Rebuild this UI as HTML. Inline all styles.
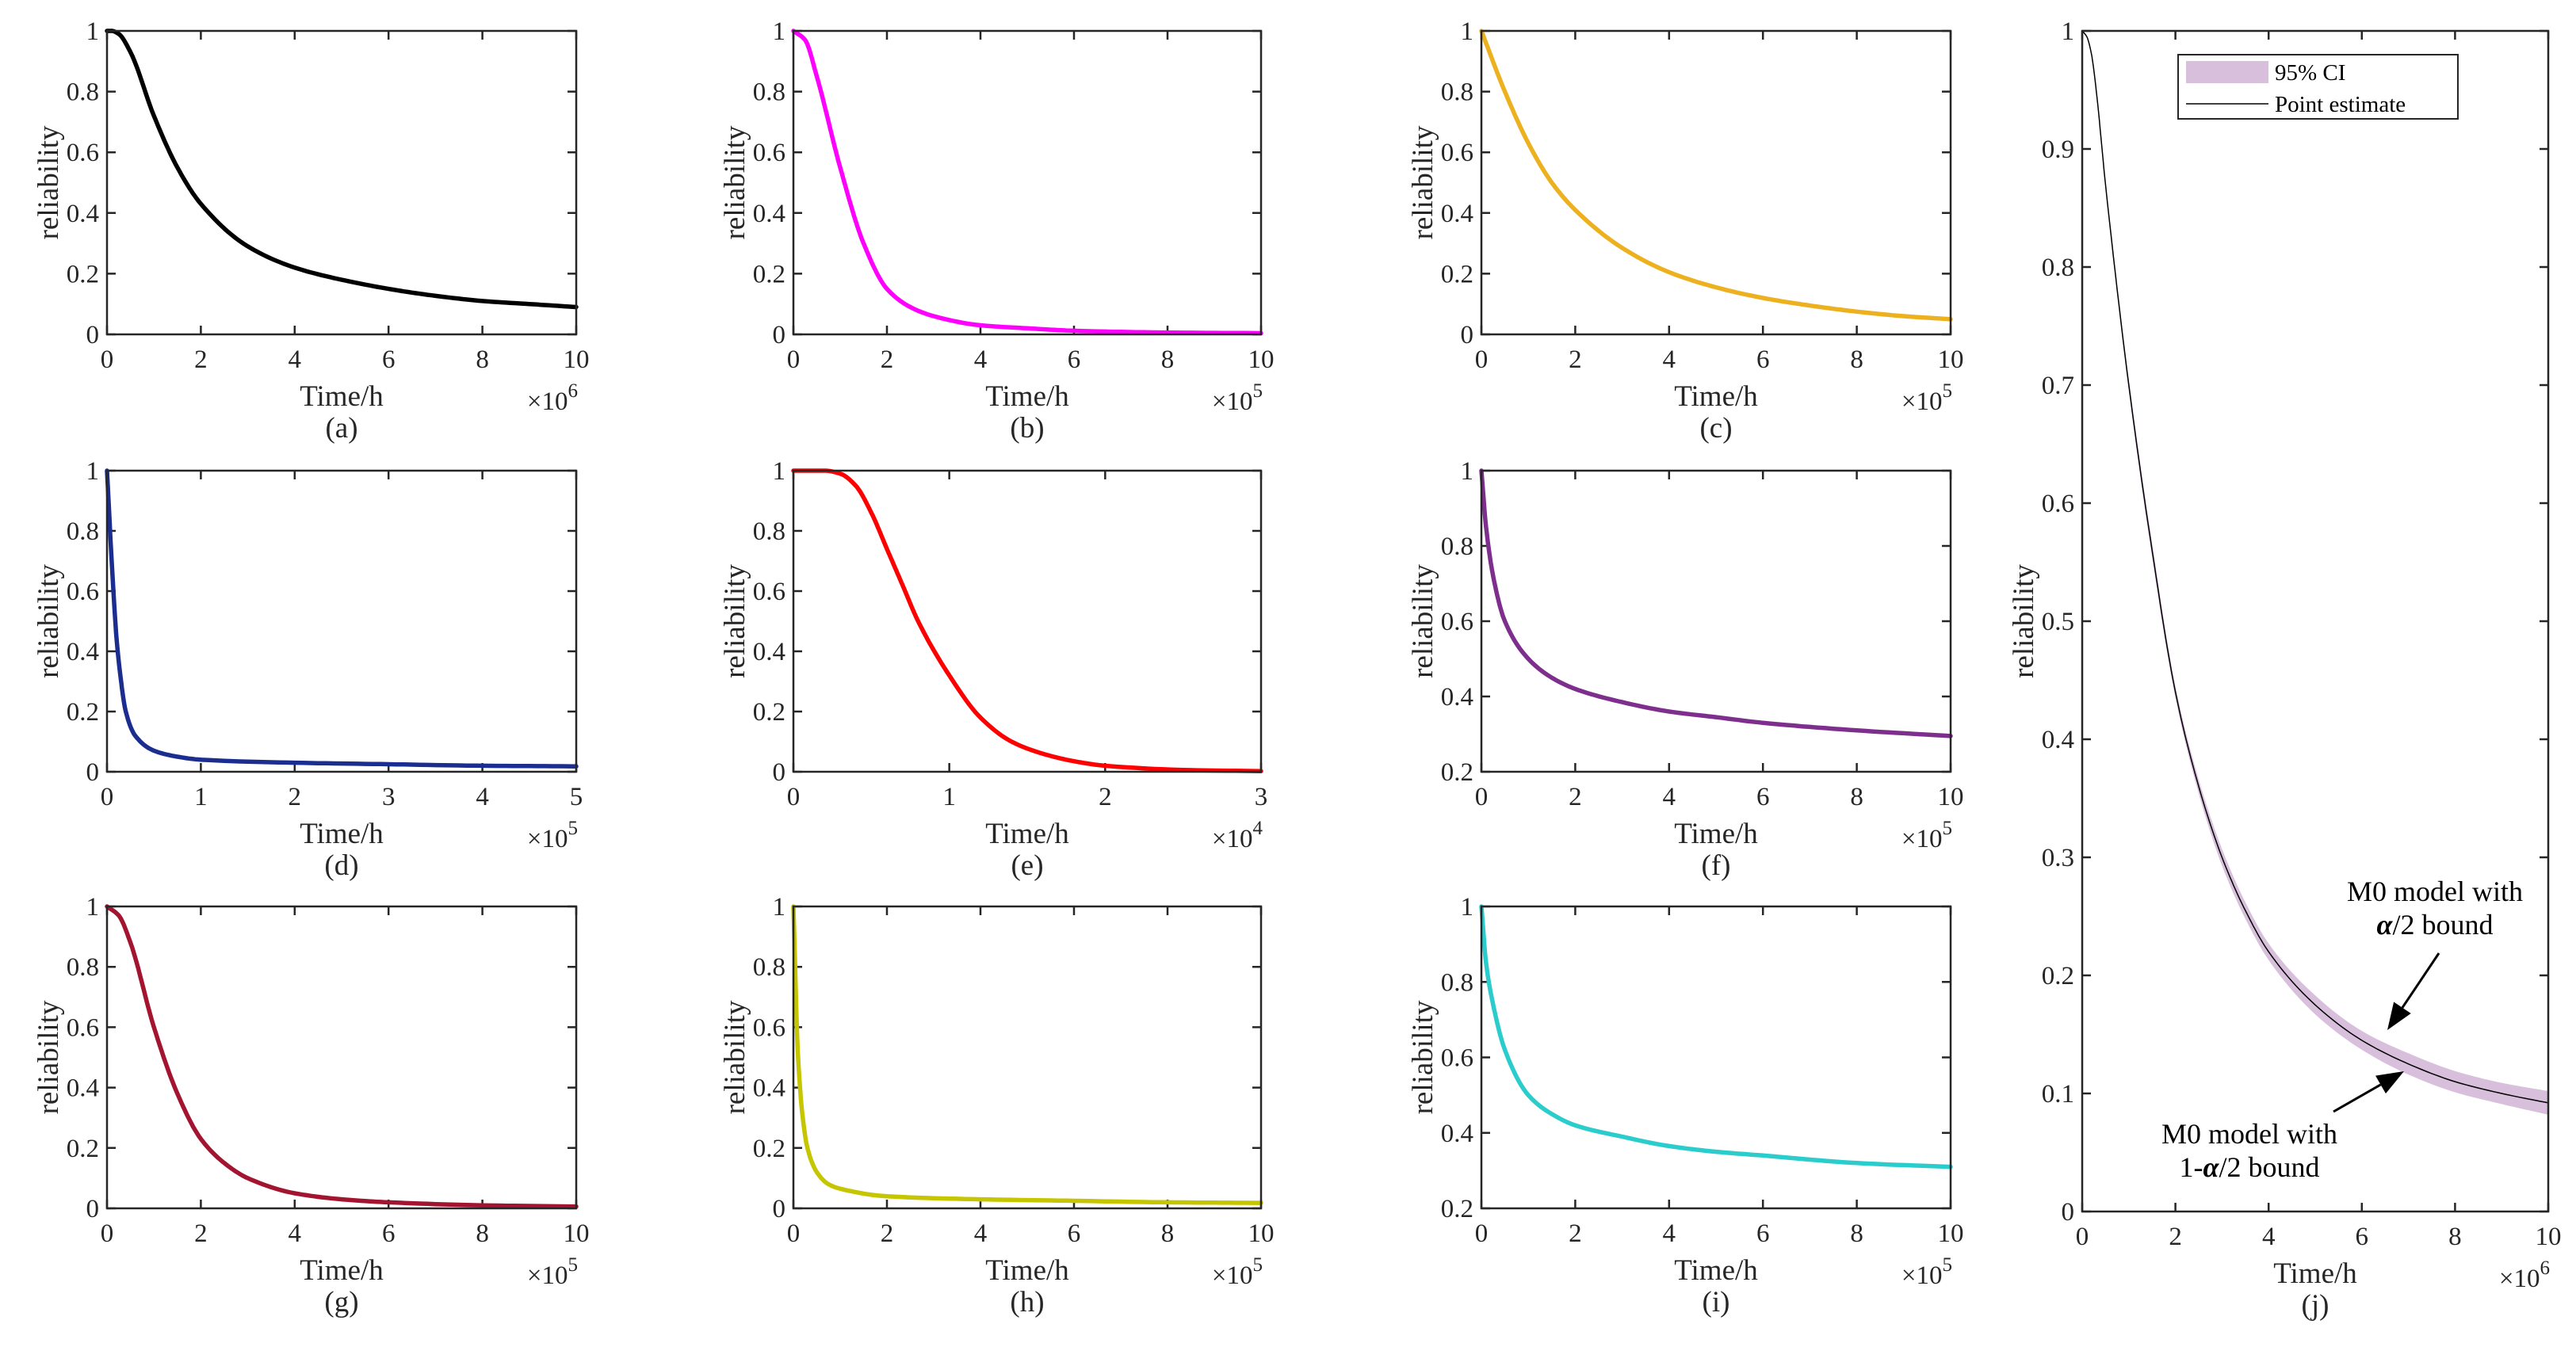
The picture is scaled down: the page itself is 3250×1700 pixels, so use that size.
<!DOCTYPE html>
<html><head><meta charset="utf-8"><style>
html,body{margin:0;padding:0;background:#fff;}
svg{display:block;font-family:"Liberation Serif","DejaVu Serif",serif;}
svg text{font-family:"Liberation Serif","DejaVu Serif",serif;}
</style></head><body>
<svg id="fig" width="3250" height="1700" viewBox="0 0 3250 1700" font-family="Liberation Serif, DejaVu Serif, serif" xmlns="http://www.w3.org/2000/svg"></svg>
<script>
// ---- data ----
const xA=[0,0.1,0.25,0.5,1,1.5,2,3,4,5,6,7,8,9,10];
const yA=[1,1,0.99,0.93,0.72,0.55,0.43,0.29,0.22,0.18,0.15,0.127,0.11,0.1,0.09];
const xB=[0,0.25,0.5,1,1.5,2,2.5,3,4,5,6,8,10];
const yB=[1,0.97,0.85,0.55,0.3,0.15,0.09,0.06,0.03,0.02,0.012,0.006,0.004];
const xC=[0,0.5,1,1.5,2,3,4,5,6,7,8,9,10];
const yC=[1,0.8,0.63,0.5,0.41,0.285,0.205,0.155,0.12,0.095,0.075,0.06,0.05];
const xD=[0,0.05,0.1,0.15,0.2,0.3,0.5,0.75,1,2,3,4,5];
const yD=[1,0.7,0.45,0.3,0.2,0.12,0.07,0.05,0.04,0.03,0.025,0.02,0.018];
const xE=[0,0.2,0.3,0.4,0.5,0.6,0.7,0.8,1,1.2,1.4,1.6,1.8,2,2.5,3];
const yE=[1,1,0.99,0.95,0.86,0.74,0.62,0.5,0.32,0.18,0.1,0.06,0.035,0.02,0.006,0.002];
const xF=[0,0.1,0.25,0.5,1,1.5,2,3,4,5,6,8,10];
const yF=[1,0.85,0.72,0.6,0.5,0.45,0.42,0.385,0.36,0.345,0.33,0.31,0.295];
const xG=[0,0.25,0.5,1,1.5,2,2.5,3,4,5,6,8,10];
const yG=[1,0.97,0.88,0.6,0.38,0.23,0.15,0.1,0.05,0.03,0.02,0.01,0.006];
const xH=[0,0.1,0.2,0.3,0.5,0.75,1,2,4,6,8,10];
const yH=[1,0.5,0.3,0.2,0.12,0.08,0.065,0.04,0.03,0.025,0.02,0.018];
const xI=[0,0.1,0.25,0.5,1,1.5,2,3,4,5,6,8,10];
const yI=[1,0.85,0.74,0.62,0.5,0.45,0.42,0.39,0.365,0.35,0.34,0.32,0.31];
const xJ=[0,0.1,0.2,0.3,0.5,1,1.5,2,2.5,3,3.5,4,5,6,7,8,9,10];
const yJ=[1,0.995,0.98,0.95,0.87,0.7,0.56,0.44,0.36,0.3,0.255,0.22,0.175,0.145,0.125,0.11,0.1,0.092];
const loJ=[1,0.995,0.979,0.948,0.867,0.695,0.554,0.435,0.354,0.293,0.248,0.213,0.167,0.137,0.116,0.101,0.091,0.082];
const hiJ=[1,0.995,0.981,0.952,0.873,0.705,0.566,0.445,0.366,0.307,0.262,0.227,0.183,0.153,0.134,0.119,0.109,0.102];

const NS="http://www.w3.org/2000/svg";
const svg=document.getElementById('fig');
function mk(tag,attrs,parent){const e=document.createElementNS(NS,tag);for(const k in attrs)e.setAttribute(k,attrs[k]);(parent||svg).appendChild(e);return e;}
function monoSample(xs,ys,n){
  const m=xs.length,d=[],t=new Array(m);
  for(let i=0;i<m-1;i++)d.push((ys[i+1]-ys[i])/(xs[i+1]-xs[i]));
  t[0]=d[0];t[m-1]=d[m-2];
  for(let i=1;i<m-1;i++){
    if(d[i-1]*d[i]<=0)t[i]=0;
    else{const h0=xs[i]-xs[i-1],h1=xs[i+1]-xs[i];const w1=2*h1+h0,w2=h1+2*h0;t[i]=(w1+w2)/(w1/d[i-1]+w2/d[i]);}
  }
  const out=[];
  for(let i=0;i<m-1;i++){
    const h=xs[i+1]-xs[i];
    for(let k=0;k<n;k++){
      const s=k/n,s2=s*s,s3=s2*s;
      const y=(2*s3-3*s2+1)*ys[i]+(s3-2*s2+s)*h*t[i]+(-2*s3+3*s2)*ys[i+1]+(s3-s2)*h*t[i+1];
      out.push([xs[i]+s*h,y]);
    }
  }
  out.push([xs[m-1],ys[m-1]]);
  return out;
}
function poly(pts){return pts.map((p,i)=>(i?"L":"M")+p[0].toFixed(1)+","+p[1].toFixed(1)).join("");}
function fmt(v){return String(Math.round(v*10)/10);}
function panel(o){
  const g=mk('g',{});
  
  
  const L=o.l,R=o.r,T=o.t,B=o.b;
  const sx=v=>L+(v-o.x0)/(o.x1-o.x0)*(R-L);
  const sy=v=>B-(v-o.y0)/(o.y1-o.y0)*(B-T);
  for(let v=o.x0;v<=o.x1+1e-9;v+=o.xs){
    const X=sx(v);
    const tk=mk('path',{d:`M${X},${B}v-11M${X},${T}v11`,stroke:'#262626','stroke-width':2.5},g);
    
    
    const t=mk('text',{x:X,y:B+42,'font-size':33,'text-anchor':'middle',fill:'#262626'},g);
    t.textContent=fmt(v);
    
    
  }
  for(let v=o.y0;v<=o.y1+1e-9;v+=o.ys){
    const Y=sy(v);
    const tk=mk('path',{d:`M${L},${Y}h11M${R},${Y}h-11`,stroke:'#262626','stroke-width':2.5},g);
    
    
    const t=mk('text',{x:L-10,y:Y+11,'font-size':33,'text-anchor':'end',fill:'#262626'},g);
    t.textContent=fmt(v);
    
    
  }
  const toPx=a=>a.map(p=>[sx(p[0]),sy(p[1])]);
  if(o.lo){
    const up=toPx(monoSample(o.xs_,o.hi,12));
    const dn=toPx(monoSample(o.xs_,o.lo,12)).reverse();
    const band=mk('path',{d:poly(up.concat(dn))+"Z",fill:'#d8bfdc',stroke:'none'},g);
    
    
  }
  const c=mk('path',{d:poly(toPx(monoSample(o.xs_,o.ys_,12))),fill:'none',stroke:o.color,'stroke-width':o.w,'stroke-linejoin':'round','stroke-linecap':'round'},g);
  
  
  const box=mk('rect',{x:L,y:T,width:R-L,height:B-T,fill:'none',stroke:'#262626','stroke-width':2.5},g);
  
  
  const cx=(L+R)/2;
  const xl=mk('text',{x:cx,y:B+90,'font-size':37,'text-anchor':'middle',fill:'#262626'},g);
  xl.textContent='Time/h';
  
  
  const ex=mk('text',{x:R+2,y:B+95,'font-size':33,'text-anchor':'end',fill:'#262626'},g);
  ex.innerHTML='×10<tspan dy="-16" font-size="25">'+o.exp+'</tspan>';
  
  
  const yl=mk('text',{x:0,y:0,'font-size':37,'text-anchor':'middle',fill:'#262626',transform:`translate(${L-62},${(T+B)/2}) rotate(-90)`},g);
  yl.textContent='reliability';
  
  
  const cap=mk('text',{x:cx,y:B+130,'font-size':37,'text-anchor':'middle',fill:'#262626'},g);
  cap.textContent='('+o.id+')';
  
  
  return {sx,sy,g};
}
const cols=[[135,727],[1001,1591],[1869,2461]];
const rows=[[39,422],[594,974],[1144,1525]];
const P=[
 ['a',xA,yA,'#000000',0,0,10,2,0,1,0.2,6],
 ['b',xB,yB,'#ff00ff',1,0,10,2,0,1,0.2,5],
 ['c',xC,yC,'#edb120',2,0,10,2,0,1,0.2,5],
 ['d',xD,yD,'#1b2d8f',3,0,5,1,0,1,0.2,5],
 ['e',xE,yE,'#ff0000',4,0,3,1,0,1,0.2,4],
 ['f',xF,yF,'#7e2f8e',5,0,10,2,0.2,1,0.2,5],
 ['g',xG,yG,'#a2142f',6,0,10,2,0,1,0.2,5],
 ['h',xH,yH,'#c5c500',7,0,10,2,0,1,0.2,5],
 ['i',xI,yI,'#2bcccc',8,0,10,2,0.2,1,0.2,5]
];
P.forEach(p=>{
  const c=cols[p[4]%3],r=rows[Math.floor(p[4]/3)];
  panel({id:p[0],xs_:p[1],ys_:p[2],color:p[3],l:c[0],r:c[1],t:r[0],b:r[1],x0:p[5],x1:p[6],xs:p[7],y0:p[8],y1:p[9],ys:p[10],exp:p[11],w:5.5});
});
const J=panel({id:'j',xs_:xJ,ys_:yJ,lo:loJ,hi:hiJ,color:'#000000',l:2627,r:3215,t:39,b:1529,x0:0,x1:10,xs:2,y0:0,y1:1,ys:0.1,exp:6,w:1.5});
const lg=mk('g',{});


mk('rect',{x:2748,y:69,width:353,height:81,fill:'#fff',stroke:'#262626','stroke-width':2},lg);
const sw=mk('rect',{x:2758,y:77,width:104,height:28,fill:'#d8bfdc'},lg);


const l1=mk('text',{x:2870,y:101,'font-size':29,fill:'#000'},lg);
l1.textContent='95% CI';


mk('line',{x1:2758,y1:131,x2:2862,y2:131,stroke:'#000','stroke-width':1.5},lg);
const l2=mk('text',{x:2870,y:141,'font-size':29,fill:'#000'},lg);
l2.textContent='Point estimate';


function arrow(x1,y1,x2,y2,name){
  const a=Math.atan2(y2-y1,x2-x1),h=34,w=13;
  const bx=x2-h*Math.cos(a),by=y2-h*Math.sin(a);
  const g=mk('g',{});
  
  
  mk('line',{x1:x1,y1:y1,x2:bx,y2:by,stroke:'#000','stroke-width':3},g);
  mk('polygon',{points:`${x2},${y2} ${bx+w*Math.sin(a)},${by-w*Math.cos(a)} ${bx-w*Math.sin(a)},${by+w*Math.cos(a)}`,fill:'#000'},g);
}
function note(x,y,l1,l2,name){
  const t=mk('text',{x:x,y:y,'font-size':36,'text-anchor':'middle',fill:'#000'});
  t.innerHTML=l1;
  
  
  const t2=mk('text',{x:x,y:y+42,'font-size':36,'text-anchor':'middle',fill:'#000'});
  t2.innerHTML=l2;
  
  
}
note(3072,1137,'M0 model with','<tspan font-style="italic" font-weight="bold">α</tspan>/2 bound','upper-bound-note');
arrow(3077,1203,3012,1300,'upper-bound-arrow');
note(2838,1443,'M0 model with','1-<tspan font-style="italic" font-weight="bold">α</tspan>/2 bound','lower-bound-note');
arrow(2944,1403,3033,1352,'lower-bound-arrow');
</script>
</body></html>
